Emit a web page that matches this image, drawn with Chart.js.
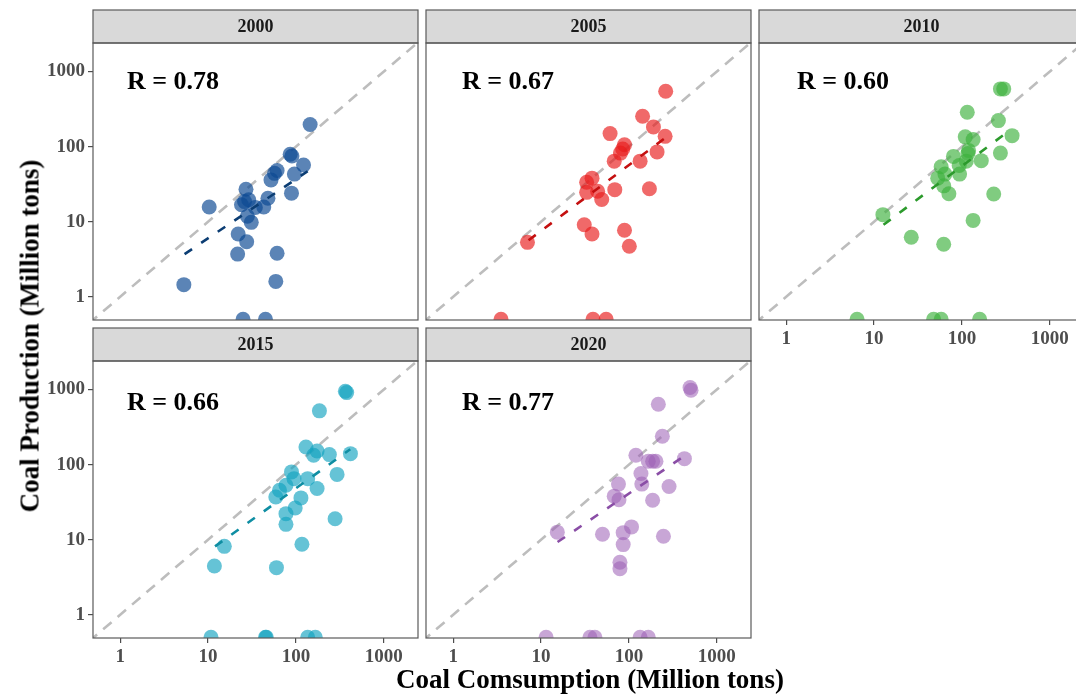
<!DOCTYPE html>
<html>
<head>
<meta charset="utf-8">
<title>Coal production vs consumption</title>
<script src="https://cdn.jsdelivr.net/npm/chart.js@4.4.1/dist/chart.umd.min.js"></script>
<style>
  html, body { margin: 0; padding: 0; background: #fff; width: 1076px; height: 695px; overflow: hidden; }
  #wrap { position: relative; width: 1076px; height: 695px; overflow: hidden; }
  #wrap canvas { position: absolute; left: 0; top: 0; }
  .axis-title { position: absolute; font-family: "Liberation Serif", "Times New Roman", serif; font-weight: bold;
                font-size: 27px; color: #000; white-space: nowrap; line-height: 1; }
  #ytitle { left: 30px; top: 336px; transform: translate(-50%, -50%) rotate(-90deg); }
  #xtitle { left: 590px; top: 679px; transform: translate(-50%, -50%); }
</style>
</head>
<body>
<div id="wrap">
  <canvas id="p0" width="1100" height="700"></canvas>
  <canvas id="p1" width="1100" height="700"></canvas>
  <canvas id="p2" width="1100" height="700"></canvas>
  <canvas id="p3" width="1100" height="700"></canvas>
  <canvas id="p4" width="1100" height="700"></canvas>
  <div id="ytitle" class="axis-title">Coal Production (Million tons)</div>
  <div id="xtitle" class="axis-title">Coal Comsumption (Million tons)</div>
</div>
<script>
// ---- data (million tons); zero production is shown at 0.5 on the log axis ----
const years = ['2000', '2005', '2010', '2015', '2020'];
const rLabels = ['R = 0.78', 'R = 0.67', 'R = 0.60', 'R = 0.66', 'R = 0.77'];
const tickValues = [1, 10, 100, 1000];

const cons2000 = [145, 86, 90, 122, 57, 61, 96, 52, 89, 27, 48, 24, 26, 29, 10.3, 43, 34.5, 28, 31, 22, 27.5, 21.7, 61, 5.3, 59, 25, 45];
const prod2000 = [197, 79, 75, 57, 44, 48, 43, 36, 24, 27, 20.5, 16.8, 18.5, 19.6, 15.7, 15.7, 15.5, 11.8, 9.8, 6.85, 5.4, 3.7, 3.8, 1.45, 1.6, 0.5, 0.5];

const cons2005 = [262, 143, 190, 258, 61, 89, 85, 80, 68, 209, 134, 38, 33, 33, 44, 69, 49, 171, 31, 38, 89, 101, 7.0, 3.5, 39, 55];
const prod2005 = [547, 254, 183, 137, 149, 106, 93, 82, 64, 85, 64, 38, 33.5, 24.6, 25.4, 26.7, 19.7, 27.5, 9.1, 6.85, 7.7, 4.7, 5.3, 0.5, 0.5, 0.5];

const cons2010 = [274, 299, 115, 260, 372, 109, 134, 119, 117, 274, 80, 112, 166, 93, 58, 64, 94, 53, 62, 71, 230, 12.6, 134, 26.5, 62, 6.4, 47.6, 58, 159];
const prod2010 = [587, 587, 287, 222, 140, 135, 124, 89, 81, 82, 74, 64, 65, 56, 54, 43, 43, 38, 30, 23.6, 23.4, 12.4, 10.4, 6.2, 5.0, 0.5, 0.5, 0.5, 0.5];

const cons2015 = [365, 378, 185, 130, 174, 159, 240, 417, 294, 89, 95, 136, 77, 65, 59, 174, 114, 98, 77, 77, 279, 15.3, 117, 11.8, 60, 10.8, 45, 46, 136, 166];
const prod2015 = [950, 910, 520, 172, 152, 133, 136, 140, 74, 80, 65, 65, 53, 45.5, 37, 48, 36, 26.4, 22.2, 16, 19, 8.15, 8.7, 4.46, 4.24, 0.5, 0.5, 0.5, 0.5, 0.5];

const cons2020 = [496, 509, 216, 240, 120, 166, 186, 203, 428, 137, 140, 286, 76, 68, 77, 186, 15.3, 50, 86, 107, 247, 86, 79, 79, 11.4, 36, 41, 134, 166];
const prod2020 = [1064, 979, 637, 239, 133, 111, 111, 111, 120, 76, 55, 51, 55, 38, 34, 33.5, 12.6, 11.8, 12.4, 14.8, 11.1, 8.6, 5.0, 4.1, 0.5, 0.5, 0.5, 0.5, 0.5];

// fitted trend (log-log) end points for each year
const trendX2000 = [5.4, 136],  trendY2000 = [3.7, 47];
const trendX2005 = [7.2, 257],  trendY2005 = [5.65, 130];
const trendX2010 = [12.8, 307], trendY2010 = [9.1, 147];
const trendX2015 = [12.0, 415], trendY2015 = [8.15, 160];
const trendX2020 = [15.4, 409], trendY2020 = [9.3, 126];

// 1:1 reference line
const diagX = [0.3, 5000], diagY = [0.3, 5000];

// ---- styling ----
const pointColors = ['rgba(13,74,148,0.68)', 'rgba(232,27,27,0.66)', 'rgba(60,177,60,0.65)', 'rgba(18,163,192,0.65)', 'rgba(154,92,180,0.55)'];
const lineColors  = ['#0b3d73', '#c40f0f', '#2c9a2c', '#0f8ea3', '#8a4ea6'];

// ---- facet layout ----
const CW = 1100, CH = 700;
const PLOT_LEFT = [93, 426, 759];
const PLOT_TOP = [43, 361];
const PLOT_W = 325, PLOT_H = 277, STRIP_H = 33, X_AXIS_H = 40;
const AXIS_MIN = 0.49, X_MAX = 2450, Y_MAX = 2400;
const SERIF = '"Liberation Serif", "Times New Roman", serif';

const panels = [
  { year: years[0], r: rLabels[0], cons: cons2000, prod: prod2000, tx: trendX2000, ty: trendY2000, row: 0, col: 0 },
  { year: years[1], r: rLabels[1], cons: cons2005, prod: prod2005, tx: trendX2005, ty: trendY2005, row: 0, col: 1 },
  { year: years[2], r: rLabels[2], cons: cons2010, prod: prod2010, tx: trendX2010, ty: trendY2010, row: 0, col: 2 },
  { year: years[3], r: rLabels[3], cons: cons2015, prod: prod2015, tx: trendX2015, ty: trendY2015, row: 1, col: 0 },
  { year: years[4], r: rLabels[4], cons: cons2020, prod: prod2020, tx: trendX2020, ty: trendY2020, row: 1, col: 1 }
];

const toXY = (xs, ys) => xs.map((x, i) => ({ x: x, y: ys[i] }));

// facet strip, panel border and correlation label
const panelDecor = {
  id: 'panelDecor',
  afterDatasetsDraw(chart, args, opts) {
    const ctx = chart.ctx, a = chart.chartArea;
    ctx.save();
    ctx.fillStyle = '#d9d9d9';
    ctx.fillRect(a.left, a.top - STRIP_H, a.right - a.left, STRIP_H);
    ctx.strokeStyle = '#5a5a5a';
    ctx.lineWidth = 1.2;
    ctx.strokeRect(a.left, a.top - STRIP_H, a.right - a.left, STRIP_H);
    ctx.strokeRect(a.left, a.top, a.right - a.left, a.bottom - a.top);
    ctx.fillStyle = '#1a1a1a';
    ctx.font = 'bold 18px ' + SERIF;
    ctx.textAlign = 'center';
    ctx.textBaseline = 'middle';
    ctx.fillText(opts.year, (a.left + a.right) / 2, a.top - STRIP_H / 2 + 1);
    ctx.fillStyle = '#000';
    ctx.font = 'bold 26px ' + SERIF;
    ctx.textAlign = 'left';
    ctx.textBaseline = 'alphabetic';
    ctx.fillText(opts.r, a.left + opts.rx, a.top + opts.ry);
    ctx.restore();
  }
};

function axisTicks(scale) {
  scale.ticks = tickValues.map(v => ({ value: v }));
}

const tickFont = { family: SERIF, size: 19, weight: 'bold' };

panels.forEach((p, i) => {
  const showY = p.col === 0;
  const showX = p.row === 1 || p.col === 2;
  const left = PLOT_LEFT[p.col], top = PLOT_TOP[p.row];
  const pad = {
    left: showY ? 0 : left,
    top: top,
    right: CW - (left + PLOT_W),
    bottom: CH - (top + PLOT_H) - (showX ? X_AXIS_H : 0)
  };
  new Chart(document.getElementById('p' + i), {
    type: 'scatter',
    data: {
      datasets: [
        { data: toXY(diagX, diagY), showLine: true, pointRadius: 0, borderColor: '#bdbdbd',
          borderWidth: 2.6, borderDash: [11, 8], clip: 0, order: 3 },
        { data: toXY(p.cons, p.prod), pointRadius: 7.5, pointHoverRadius: 7.5, backgroundColor: pointColors[i],
          borderWidth: 0, pointBorderWidth: 0, clip: 0, order: 2 },
        { data: toXY(p.tx, p.ty), showLine: true, pointRadius: 0, borderColor: lineColors[i],
          borderWidth: 2.6, borderDash: [9, 11], clip: 0, order: 1 }
      ]
    },
    options: {
      responsive: false,
      animation: false,
      devicePixelRatio: 1,
      events: [],
      layout: { padding: pad },
      plugins: {
        legend: { display: false },
        tooltip: { enabled: false },
        panelDecor: { year: p.year, r: p.r, rx: 34 + 2 * p.col, ry: p.row === 0 ? 45.5 : 48.5 }
      },
      scales: {
        x: {
          type: 'logarithmic', min: AXIS_MIN, max: X_MAX, display: showX,
          afterBuildTicks: axisTicks,
          afterFit: s => { s.height = showX ? X_AXIS_H : 0; },
          border: { display: false },
          grid: { drawOnChartArea: false, drawTicks: true, tickLength: 5, color: '#4d4d4d', lineWidth: 1.2 },
          ticks: { font: tickFont, color: '#4d4d4d', padding: 3, maxRotation: 0, autoSkip: false,
                   callback: v => String(v) }
        },
        y: {
          type: 'logarithmic', min: AXIS_MIN, max: Y_MAX, display: showY,
          afterBuildTicks: axisTicks,
          afterFit: s => { s.width = showY ? PLOT_LEFT[0] : 0; },
          border: { display: false },
          grid: { drawOnChartArea: false, drawTicks: true, tickLength: 5, color: '#4d4d4d', lineWidth: 1.2 },
          ticks: { font: tickFont, color: '#4d4d4d', padding: 3, autoSkip: false,
                   callback: v => String(v) }
        }
      }
    },
    plugins: [panelDecor]
  });
});
</script>
</body>
</html>
